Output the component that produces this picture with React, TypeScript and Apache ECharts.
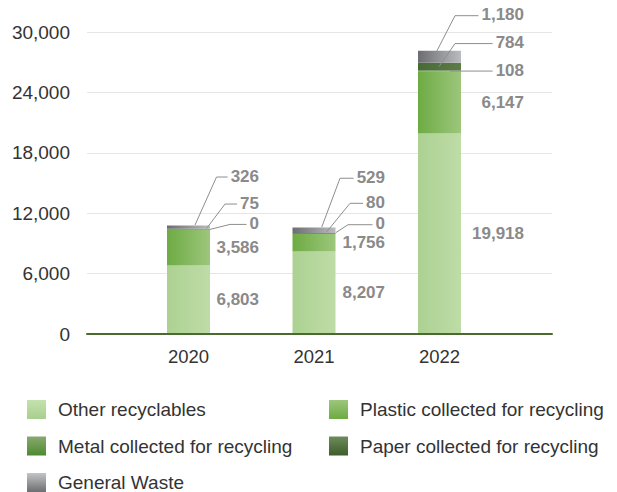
import React, { useEffect, useRef } from 'react';
import * as echarts from 'echarts';

// ---------- data ----------
const years = ['2020', '2021', '2022'];
const otherRecyclables = [6803, 8207, 19918];
const plasticCollected = [3586, 1756, 6147];
const metalCollected = [0, 0, 108];
const paperCollected = [75, 80, 784];
const generalWaste = [326, 529, 1180];
const yTicks = [0, 6000, 12000, 18000, 24000, 30000];
const seriesNames = [
  'Other recyclables',
  'Plastic collected for recycling',
  'Metal collected for recycling',
  'Paper collected for recycling',
  'General Waste',
];

// ---------- style / layout ----------
const FONT = '"Liberation Sans", Arial, Helvetica, sans-serif';
const LABEL_COLOR = '#8a8a8a';
const LABEL_FONT = `bold 17px ${FONT}`;
const BAR_W = 43;
const LABEL_RIGHT = [70.5, 71, 84.5]; // label right edge offset from bar centre, per year
// small labels (metal, paper, general) per year
const SMALL_LABEL_DY = [
  [-6, -26, -51],
  [-10, -31, -53],
  [-1, -24, -42],
];
const LEADER_START = [
  [[21.5, 0], [18, -0.5], [6.5, -2]],
  [[21.7, -1], [12.7, -1.5], [7.7, -3]],
  [[10.5, 0], [-0.5, 0], [-3, -5]],
];
const LEADER_ELBOW = [
  [41.5, 36.5, 28],
  [34, 36, 26],
  [10.5, 15.5, 15.5],
];

const barColors = [
  ['#acd192', '#bedca7'],
  ['#6dab43', '#9dc67c'],
  ['#5a8f3c', '#7aa55e'],
  ['#476a33', '#5d7c48'],
  ['#6b6d70', '#b9bbbe'],
];
const legendColors = [
  ['#c4e1ae', '#a8cf8e'],
  ['#9dc67c', '#6dab43'],
  ['#88a96f', '#4e8a2f'],
  ['#6f8b5d', '#3d5d29'],
  ['#c2c4c6', '#6c6e71'],
];

const fmt = (v: number) => v.toLocaleString('en-US');

function measure(text: string): number {
  const el = new echarts.graphic.Text({ style: { text, font: LABEL_FONT } });
  return el.getBoundingRect().width;
}

export default function App() {
  const ref = useRef<HTMLDivElement>(null);

  useEffect(() => {
    if (!ref.current) return;
    const chart = echarts.init(ref.current, undefined, { renderer: 'svg' });

    const values = [otherRecyclables, plasticCollected, metalCollected, paperCollected, generalWaste];

    const hGrad = (c: string[]) =>
      new echarts.graphic.LinearGradient(0, 0, 1, 0, [
        { offset: 0, color: c[0] },
        { offset: 1, color: c[1] },
      ]);
    const vGrad = (c: string[]) =>
      new echarts.graphic.LinearGradient(0, 0, 0, 1, [
        { offset: 0, color: c[0] },
        { offset: 1, color: c[1] },
      ]);

    const barSeries = values.map((arr, si) => ({
      name: seriesNames[si],
      type: 'bar',
      stack: 'total',
      xAxisIndex: 1,
      yAxisIndex: 1,
      barWidth: BAR_W,
      itemStyle: { color: hGrad(barColors[si]) },
      label: {
        show: si < 2,
        position: 'right',
        align: 'right',
        verticalAlign: 'middle',
        color: LABEL_COLOR,
        fontSize: 17,
        fontWeight: 'bold',
        fontFamily: FONT,
        formatter: (p: any) => fmt(p.value),
      },
      data: arr.map((v, i) => ({ value: v, label: { distance: LABEL_RIGHT[i] - BAR_W / 2 } })),
      z: 2,
    }));

    // leader-line labels for the small segments (metal, paper, general)
    const smallData: number[][] = [];
    years.forEach((_, i) => {
      let base = otherRecyclables[i] + plasticCollected[i];
      [metalCollected, paperCollected, generalWaste].forEach((arr, s) => {
        const v = arr[i];
        smallData.push([i, base + v / 2, s, v]);
        base += v;
      });
    });

    const leaderSeries = {
      type: 'custom',
      xAxisIndex: 1,
      yAxisIndex: 1,
      silent: true,
      z: 5,
      clip: false,
      data: smallData,
      renderItem: (_params: any, api: any) => {
        const i = api.value(0) as number;
        const mid = api.value(1) as number;
        const s = api.value(2) as number;
        const v = api.value(3) as number;
        const c = api.coord([i, mid]);
        const labelY = c[1] + SMALL_LABEL_DY[i][s];
        const labelRight = c[0] + LABEL_RIGHT[i];
        const text = fmt(v);
        const w = measure(text);
        const endX = labelRight - w - 3;
        const start = [c[0] + LEADER_START[i][s][0], c[1] + LEADER_START[i][s][1]];
        const elbow = [c[0] + LEADER_ELBOW[i][s], labelY + 1];
        return {
          type: 'group',
          children: [
            {
              type: 'polyline',
              shape: { points: [start, elbow, [endX, labelY + 1]] },
              style: { stroke: '#8e8e8e', lineWidth: 1, fill: null },
            },
            {
              type: 'text',
              style: {
                text,
                x: labelRight,
                y: labelY,
                align: 'right',
                verticalAlign: 'middle',
                textAlign: 'right',
                textVerticalAlign: 'middle',
                fill: LABEL_COLOR,
                font: LABEL_FONT,
              },
            },
          ],
        };
      },
    };

    const legendCommon = {
      orient: 'vertical',
      top: 400,
      height: 92,
      padding: 0,
      itemWidth: 19,
      itemHeight: 19,
      itemGap: 17.5,
      icon: 'rect',
      selectedMode: false,
      textStyle: { color: '#333', fontSize: 19, fontFamily: FONT, padding: [0, 0, 0, 7] },
    };

    chart.setOption({
      animation: false,
      backgroundColor: '#fff',
      grid: [
        { left: 87, right: 65, top: 32, bottom: 158 },
        { left: 125.75, right: 114.75, top: 32, bottom: 158 },
      ],
      legend: [
        {
          ...legendCommon,
          left: 27,
          data: [0, 2, 4].map((k) => ({ name: seriesNames[k], itemStyle: { color: vGrad(legendColors[k]) } })),
        },
        {
          ...legendCommon,
          left: 329,
          data: [1, 3].map((k) => ({ name: seriesNames[k], itemStyle: { color: vGrad(legendColors[k]) } })),
        },
      ],
      xAxis: [
        {
          type: 'category',
          gridIndex: 0,
          data: [''],
          axisLine: { show: true, lineStyle: { color: '#4a6a2f', width: 2 } },
          axisTick: { show: false },
          axisLabel: { show: false },
          z: 4,
        },
        {
          type: 'category',
          gridIndex: 1,
          data: years,
          axisLine: { show: false },
          axisTick: { show: false },
          axisLabel: { color: '#333', fontSize: 18.5, fontFamily: FONT, margin: 13 },
        },
      ],
      yAxis: [
        {
          type: 'value',
          gridIndex: 0,
          min: yTicks[0],
          max: yTicks[yTicks.length - 1],
          interval: yTicks[1] - yTicks[0],
          axisLine: { show: false },
          axisTick: { show: false },
          splitLine: { show: true, lineStyle: { color: '#e6e6e6', width: 1 } },
          axisLabel: {
            color: '#333',
            fontSize: 19,
            fontFamily: FONT,
            margin: 17,
            formatter: (v: number) => fmt(v),
          },
        },
        {
          type: 'value',
          gridIndex: 1,
          min: yTicks[0],
          max: yTicks[yTicks.length - 1],
          interval: yTicks[1] - yTicks[0],
          show: false,
          splitLine: { show: false },
        },
      ],
      series: [...barSeries, leaderSeries],
    } as any);

    return () => chart.dispose();
  }, []);

  return (
    <div
      ref={ref}
      style={{ position: 'absolute', left: 0, top: 0, width: 617, height: 492 }}
    />
  );
}
